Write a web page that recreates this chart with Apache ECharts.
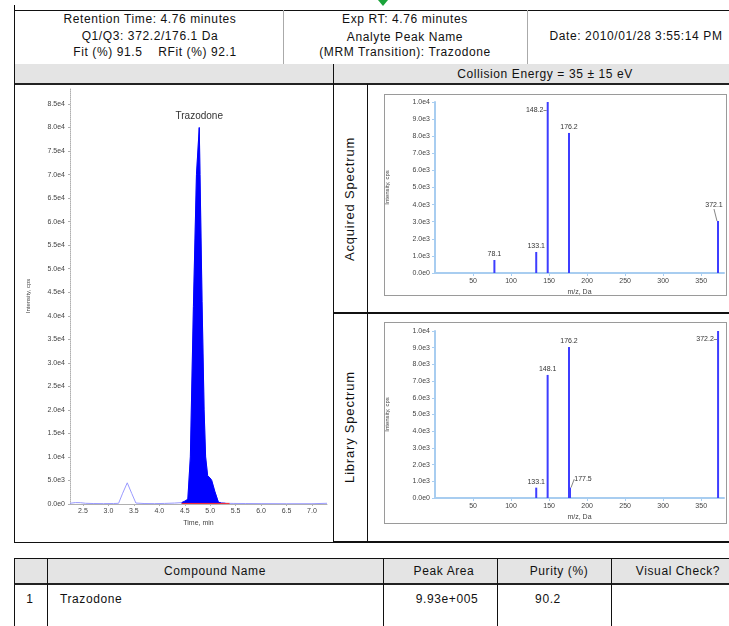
<!DOCTYPE html>
<html>
<head>
<meta charset="utf-8">
<script src="https://cdn.jsdelivr.net/npm/echarts@6/dist/echarts.min.js"></script>
<style>
  html, body { margin:0; padding:0; background:#fff; }
  body { width:729px; height:626px; overflow:hidden; position:relative;
         font-family:"Liberation Sans", Arial, sans-serif; font-size:12px; letter-spacing:0.6px; color:#111; }
  .abs { position:absolute; box-sizing:border-box; }
  .t { position:absolute; white-space:nowrap; transform:translate(-50%,-50%); }
  .tl { position:absolute; white-space:nowrap; transform:translate(0,-50%); }
  #chart { position:absolute; left:0; top:0; width:729px; height:626px; z-index:5; letter-spacing:0; }
</style>
</head>
<body>
<!-- decorations / tables -->
<div class="abs" style="left:14px;top:5px;width:1px;height:6px;background:#000"></div>
<div class="abs" style="left:378px;top:0;width:0;height:0;border-left:5px solid transparent;border-right:5px solid transparent;border-top:6px solid #1aa33a"></div>

<div class="abs" style="left:14px;top:10px;width:740px;height:55px;border:1px solid #111;border-right:none"></div>
<div class="abs" style="left:283px;top:10px;width:1px;height:54px;background:#aaa"></div>
<div class="abs" style="left:527px;top:10px;width:1px;height:54px;background:#aaa"></div>

<div class="t" style="left:150px;top:19px">Retention Time: 4.76 minutes</div>
<div class="t" style="left:150px;top:36px">Q1/Q3: 372.2/176.1 Da</div>
<div class="t" style="left:155px;top:52px">Fit (%) 91.5&nbsp;&nbsp;&nbsp;&nbsp;RFit (%) 92.1</div>
<div class="t" style="left:405px;top:19px">Exp RT: 4.76 minutes</div>
<div class="t" style="left:405px;top:37px">Analyte Peak Name</div>
<div class="t" style="left:405px;top:52px">(MRM Transition): Trazodone</div>
<div class="t" style="left:636px;top:36px">Date: 2010/01/28 3:55:14 PM</div>

<div class="abs" style="left:14px;top:64px;width:740px;height:21px;background:#e4e4e4;border-left:1px solid #111;border-bottom:2px solid #222"></div>
<div class="abs" style="left:333px;top:64px;width:1px;height:478px;background:#111"></div>
<div class="t" style="left:545px;top:74px">Collision Energy = 35 ± 15 eV</div>

<div class="abs" style="left:14px;top:84px;width:320px;height:459px;border:1px solid #111;border-top:none"></div>
<div class="abs" style="left:333px;top:541px;width:420px;height:2px;background:#111"></div>
<div class="abs" style="left:367px;top:84px;width:1px;height:458px;background:#111"></div>
<div class="abs" style="left:333px;top:312px;width:420px;height:2px;background:#111"></div>

<div class="abs" style="left:384px;top:94px;width:343px;height:202px;border:1px solid #9a9a9a"></div>
<div class="abs" style="left:384px;top:322px;width:343px;height:202px;border:1px solid #9a9a9a"></div>

<div class="t" style="left:349px;top:199px;transform:translate(-50%,-50%) rotate(-90deg);font-size:13px;letter-spacing:0.8px">Acquired Spectrum</div>
<div class="t" style="left:349px;top:427px;transform:translate(-50%,-50%) rotate(-90deg);font-size:13px;letter-spacing:0.8px">Library Spectrum</div>

<!-- bottom table -->
<div class="abs" style="left:14px;top:558px;width:740px;height:27px;background:#e4e4e4;border:1px solid #111;border-right:none;border-bottom:2px solid #222"></div>
<div class="abs" style="left:14px;top:585px;width:1px;height:50px;background:#111"></div>
<div class="abs" style="left:47px;top:558px;width:1px;height:80px;background:#111"></div>
<div class="abs" style="left:383px;top:558px;width:1px;height:80px;background:#111"></div>
<div class="abs" style="left:497px;top:558px;width:1px;height:80px;background:#111"></div>
<div class="abs" style="left:611px;top:558px;width:1px;height:80px;background:#111"></div>
<div class="t" style="left:215px;top:571px">Compound Name</div>
<div class="t" style="left:444px;top:571px">Peak Area</div>
<div class="t" style="left:559px;top:571px">Purity (%)</div>
<div class="t" style="left:678px;top:571px">Visual Check?</div>
<div class="t" style="left:30px;top:599px">1</div>
<div class="tl" style="left:60px;top:599px">Trazodone</div>
<div class="t" style="left:447px;top:599px">9.93e+005</div>
<div class="t" style="left:548px;top:599px">90.2</div>

<div id="chart"></div>
<script>
// ---------- data ----------
// Chromatogram full trace (time in min, intensity in cps)
const chromTime = [2.245, 2.35, 2.45, 2.55, 2.7, 2.9, 3.1, 3.2, 3.28, 3.37, 3.46, 3.54, 3.7, 3.9, 4.1, 4.3, 4.44, 4.5, 4.56, 4.61, 4.67, 4.73, 4.785, 4.80, 4.84, 4.88, 4.91, 4.95, 5.0, 5.03, 5.09, 5.16, 5.22, 5.3, 5.45, 5.7, 6.0, 6.5, 7.0, 7.295];
const chromIntensity = [150, 300, 280, 150, 100, 80, 100, 150, 2300, 4500, 2200, 200, 100, 80, 120, 200, 300, 600, 1000, 10000, 42000, 70000, 80000, 70000, 43000, 20000, 10000, 6000, 5500, 5000, 2700, 400, 200, 150, 120, 100, 80, 60, 60, 150];
// Integrated (filled) peak region
const peakTime = [4.44, 4.5, 4.56, 4.61, 4.67, 4.73, 4.785, 4.80, 4.84, 4.88, 4.91, 4.95, 5.0, 5.03, 5.09, 5.16, 5.22, 5.3];
const peakIntensity = [300, 600, 1000, 10000, 42000, 70000, 80000, 70000, 43000, 20000, 10000, 6000, 5500, 5000, 2700, 400, 200, 150];
const peakName = "Trazodone";
// Integration baseline
const baselineTime = [4.44, 5.38];
const baselineIntensity = [120, 120];
// Tick values
const chromXTicks = [2.5, 3.0, 3.5, 4.0, 4.5, 5.0, 5.5, 6.0, 6.5, 7.0];
const chromYTicks = [0, 5000, 10000, 15000, 20000, 25000, 30000, 35000, 40000, 45000, 50000, 55000, 60000, 65000, 70000, 75000, 80000, 85000];

// Acquired spectrum
const acqMz = [78.1, 133.1, 148.2, 176.2, 372.1];
const acqIntensity = [760, 1230, 10000, 8190, 3040];
// Library spectrum
const libMz = [133.1, 148.1, 176.2, 177.5, 372.2];
const libIntensity = [620, 7370, 9040, 620, 10000];
const specXTicks = [50, 100, 150, 200, 250, 300, 350];
const specYTicks = [0, 1000, 2000, 3000, 4000, 5000, 6000, 7000, 8000, 9000, 10000];

// ---------- helpers ----------
function sci(v) {
  if (v === 0) return '0.0e0';
  const e = Math.floor(Math.log10(Math.abs(v)) + 1e-9);
  return (v / Math.pow(10, e)).toFixed(1) + 'e' + e;
}
const FONT = '"Liberation Sans", Arial, sans-serif';
const apexIdx = peakIntensity.indexOf(Math.max(...peakIntensity));

// label shift (dx, dy) for spectrum labels that are pulled aside with a leader line
const acqShift = {2: [-13, 14], 4: [-4, -10]};
const libShift = {3: [13, -3], 4: [-13, 14]};

function specData(mz, inten, shift) {
  return mz.map((m, i) => {
    const item = {value: [m, inten[i]]};
    if (shift[i]) item.labelLine = {show: true, lineStyle: {color: '#666', width: 0.8}};
    return item;
  });
}

function specX(idx) {
  return {
    gridIndex: idx, type: 'value', min: 0, max: 380,
    name: 'm/z, Da', nameLocation: 'middle', nameGap: 16,
    nameTextStyle: {fontSize: 7, color: '#444', fontFamily: FONT},
    axisLine: {lineStyle: {color: '#a8cdf0', width: 2}},
    axisTick: {show: true, length: 3, lineStyle: {color: '#a8cdf0'}, customValues: specXTicks},
    axisLabel: {fontSize: 7, color: '#444', margin: 5, fontFamily: FONT, customValues: specXTicks},
    splitLine: {show: false}
  };
}
function specY(idx) {
  return {
    gridIndex: idx, type: 'value', min: 0, max: 10000,
    name: 'Intensity, cps', nameLocation: 'middle', nameGap: 45, nameRotate: 90,
    nameTextStyle: {fontSize: 6, color: '#444', fontFamily: FONT},
    axisLine: {show: true, lineStyle: {color: '#a8cdf0', width: 2}},
    axisTick: {show: true, length: 3, lineStyle: {color: '#a8cdf0'}, customValues: specYTicks},
    axisLabel: {fontSize: 7, color: '#444', margin: 5, fontFamily: FONT, formatter: sci, customValues: specYTicks},
    splitLine: {show: false}
  };
}
function specSeries(idx, mz, inten, shift) {
  return {
    type: 'bar', xAxisIndex: idx, yAxisIndex: idx, barWidth: 2, barGap: '-100%',
    itemStyle: {color: '#3d3dff'},
    data: specData(mz, inten, shift),
    label: {show: true, position: 'top', distance: 2, fontSize: 7, color: '#333', fontFamily: FONT,
            formatter: p => p.value[0].toFixed(1)},
    labelLayout: p => shift[p.dataIndex] ? {dx: shift[p.dataIndex][0], dy: shift[p.dataIndex][1]} : {},
    silent: true, animation: false
  };
}

const chart = echarts.init(document.getElementById('chart'), null, {renderer: 'canvas'});
chart.setOption({
  animation: false,
  backgroundColor: 'transparent',
  textStyle: {fontFamily: FONT},
  grid: [
    {left: 70, top: 88, width: 257, height: 416},
    {left: 435, top: 102, width: 289, height: 171},
    {left: 435, top: 331, width: 289, height: 167}
  ],
  xAxis: [
    {
      gridIndex: 0, type: 'value', min: 2.245, max: 7.295,
      name: 'Time, min', nameLocation: 'middle', nameGap: 15,
      nameTextStyle: {fontSize: 7, color: '#444', fontFamily: FONT},
      axisLine: {lineStyle: {color: '#b0b0b0'}},
      axisTick: {show: true, length: 2, lineStyle: {color: '#b0b0b0'}, customValues: chromXTicks},
      axisLabel: {fontSize: 7, color: '#444', margin: 4, fontFamily: FONT, formatter: v => v.toFixed(1), customValues: chromXTicks},
      splitLine: {show: false}
    },
    specX(1), specX(2)
  ],
  yAxis: [
    {
      gridIndex: 0, type: 'value', min: 0, max: 88400,
      name: 'Intensity, cps', nameLocation: 'middle', nameGap: 39, nameRotate: 90,
      nameTextStyle: {fontSize: 6, color: '#444', fontFamily: FONT},
      axisLine: {show: true, lineStyle: {color: '#b0b0b0', type: 'dotted'}},
      axisTick: {show: true, length: 2, lineStyle: {color: '#b0b0b0'}, customValues: chromYTicks},
      axisLabel: {fontSize: 7, color: '#444', margin: 5, fontFamily: FONT, formatter: sci, customValues: chromYTicks},
      splitLine: {show: false}
    },
    specY(1), specY(2)
  ],
  series: [
    {
      type: 'line', xAxisIndex: 0, yAxisIndex: 0, symbol: 'none', silent: true,
      lineStyle: {color: '#9a9aff', width: 1},
      data: chromTime.map((t, i) => [t, chromIntensity[i]]), z: 2
    },
    {
      type: 'line', xAxisIndex: 0, yAxisIndex: 0, symbol: 'none', silent: true,
      lineStyle: {color: '#0000ff', width: 1},
      areaStyle: {color: '#0000ff', opacity: 1},
      data: peakTime.map((t, i) => [t, peakIntensity[i]]),
      markPoint: {
        silent: true, symbol: 'circle', symbolSize: 1,
        itemStyle: {color: 'rgba(0,0,0,0)'},
        label: {show: true, position: 'top', distance: 6, formatter: peakName, fontSize: 10, color: '#333', fontFamily: FONT},
        data: [{coord: [peakTime[apexIdx], peakIntensity[apexIdx]]}]
      },
      z: 3
    },
    {
      type: 'line', xAxisIndex: 0, yAxisIndex: 0, symbol: 'none', silent: true,
      lineStyle: {color: '#ff3030', width: 1},
      data: baselineTime.map((t, i) => [t, baselineIntensity[i]]), z: 4
    },
    specSeries(1, acqMz, acqIntensity, acqShift),
    specSeries(2, libMz, libIntensity, libShift)
  ]
});
</script>
</body>
</html>
